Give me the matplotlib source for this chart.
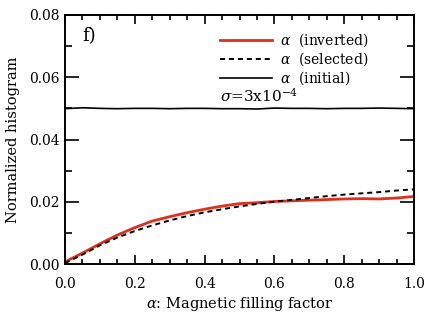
import matplotlib
matplotlib.use("Agg")
import matplotlib.pyplot as plt
import numpy as np
from matplotlib.ticker import MultipleLocator

plt.rcParams['font.family'] = ['DejaVu Serif']
plt.rcParams['mathtext.fontset'] = 'dejavuserif'

alpha = [0.0, 0.05, 0.1, 0.15, 0.2, 0.25, 0.3, 0.35, 0.4, 0.45, 0.5,
         0.55, 0.6, 0.65, 0.7, 0.75, 0.8, 0.85, 0.9, 0.95, 1.0]
inverted = [0.0007, 0.0035, 0.0065, 0.0093, 0.0117, 0.0138, 0.0152, 0.0165,
            0.0176, 0.0186, 0.0194, 0.0197, 0.0201, 0.0203, 0.0205, 0.0207,
            0.0209, 0.0210, 0.0209, 0.0212, 0.0217]
selected = [0.0003, 0.0030, 0.0060, 0.0085, 0.0106, 0.0124, 0.0140, 0.0154,
            0.0166, 0.0176, 0.0185, 0.0193, 0.0200, 0.0206, 0.0212, 0.0218,
            0.0223, 0.0227, 0.0231, 0.0236, 0.0240]
initial = [0.0499, 0.0502, 0.0500, 0.0499, 0.0500, 0.0500, 0.0499, 0.0500,
           0.0500, 0.0499, 0.0499, 0.0498, 0.0501, 0.0500, 0.0500, 0.0499,
           0.0500, 0.0500, 0.0501, 0.0500, 0.0499]

fig = plt.figure(figsize=(4.36, 3.12), dpi=100)
ax = fig.add_axes([65/436, 48/312, 349/436, 249/312])

ax.plot(alpha, inverted, color='#e0301a', lw=2.0, label=r'$\alpha$  (inverted)')
ax.plot(alpha, selected, color='black', lw=1.4, ls=(0, (2.6, 2.0)), label=r'$\alpha$  (selected)')
ax.plot(alpha, initial, color='black', lw=1.2, label=r'$\alpha$  (initial)')

ax.set_xlim(0, 1.0)
ax.set_ylim(0, 0.08)
ax.xaxis.set_major_locator(MultipleLocator(0.2))
ax.xaxis.set_minor_locator(MultipleLocator(0.05))
ax.yaxis.set_major_locator(MultipleLocator(0.02))
ax.yaxis.set_minor_locator(MultipleLocator(0.01))
ax.xaxis.set_major_formatter(matplotlib.ticker.FormatStrFormatter('%.1f'))
ax.yaxis.set_major_formatter(matplotlib.ticker.FormatStrFormatter('%.2f'))
ax.tick_params(which='both', direction='in', top=True, right=True, labelsize=10, width=1.2)
ax.tick_params(axis='x', which='major', length=6.5, pad=9)
ax.tick_params(axis='x', which='minor', length=3.3)
ax.tick_params(axis='y', which='major', length=10, pad=4)
ax.tick_params(axis='y', which='minor', length=5)
for s in ax.spines.values():
    s.set_linewidth(1.4)

ax.set_xlabel(r'$\alpha$: Magnetic filling factor', fontsize=10.5, labelpad=3)
ax.set_ylabel('Normalized histogram', fontsize=10.5, labelpad=6)

ax.text(0.049, 0.915, 'f)', transform=ax.transAxes, fontsize=13, va='center', ha='left')

leg = ax.legend(loc='upper left', bbox_to_anchor=(0.445, 0.935), frameon=False,
                fontsize=10, handlelength=3.7, handletextpad=0.6, labelspacing=0.1,
                borderaxespad=0, borderpad=0)
ax.text(0.445, 0.675, r'$\sigma$=3x10$^{-4}$', transform=ax.transAxes, fontsize=11,
        va='center', ha='left')

fig.savefig('out.png', dpi=100)
